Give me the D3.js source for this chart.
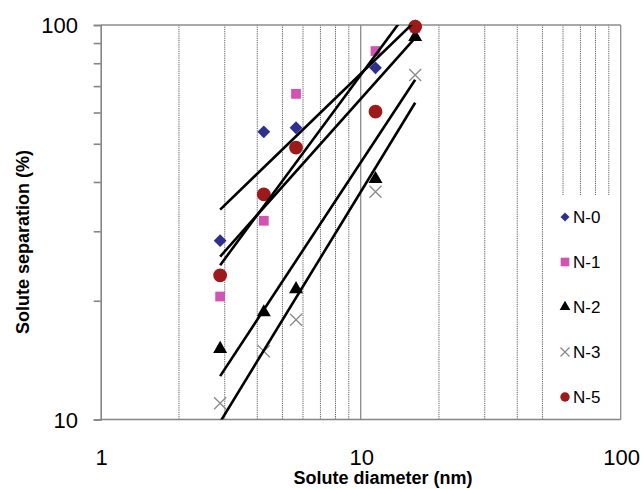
<!DOCTYPE html>
<html>
<head>
<meta charset="utf-8">
<script src="https://cdn.jsdelivr.net/npm/d3@7"></script>
<style>
  body { margin: 0; background: #fff; }
  text { font-family: "Liberation Sans", Arial, sans-serif; fill: #000; }
</style>
</head>
<body>
<svg id="chart" width="644" height="489"></svg>
<script>
// solute diameters (nm) and separation (%) per membrane
const diameters = [2.88, 4.24, 5.64, 11.4, 16.2];
const seriesNames = ["N-0", "N-1", "N-2", "N-3", "N-5"];
const n0 = [28.4, 53.6, 54.9, 77.9, 99.5];
const n1 = [20.5, 31.9, 66.9, 85.9, 98.3];
const n2 = [15.1, 18.7, 21.4, 40.7, 93.2];
const n3 = [11.0, 14.9, 17.9, 37.8, 74.7];
const n5 = [23.2, 37.2, 48.9, 60.3, 99.0];
const xTickLabels = [1, 10, 100];
const yTickLabels = [10, 100];

const seriesValues = [n0, n1, n2, n3, n5];
// diamond = square turned 45 degrees, like Excel's marker
const styles = [
  { sym: d3.symbolSquare, rot: 45, size: 82, fill: "#2e3090", leg: 40 },
  { sym: d3.symbolSquare, rot: 0, size: 95, fill: "#d253b6", leg: 75 },
  { sym: d3.symbolTriangle, rot: 0, size: 85, fill: "#000", leg: 50 },
  { sym: "x", size: 6, fill: "#8a8a8a", leg: 4.5 },
  { sym: d3.symbolCircle, rot: 0, size: 150, fill: "#9e1a1a", leg: 70 },
];

const svg = d3.select("#chart");
const x = d3.scaleLog().domain([1, 100]).range([100.7, 620.7]);
const y = d3.scaleLog().domain([10, 100]).range([419.5, 25]);

// minor gridlines (dotted)
const minorX = [2,3,4,5,6,7,8,9,20,30,40,50,60,70,80,90];
svg.append("g").selectAll("line").data(minorX).join("line")
  .attr("x1", d => x(d)).attr("x2", d => x(d))
  .attr("y1", y(10)).attr("y2", y(100))
  .attr("stroke", "#5e5e5e").attr("stroke-width", 1)
  .attr("stroke-dasharray", "1.2,1");

// major gridlines (solid)
svg.append("g").selectAll("line").data([10, 100]).join("line")
  .attr("x1", d => x(d)).attr("x2", d => x(d))
  .attr("y1", y(10)).attr("y2", y(100))
  .attr("stroke", "#8c8c8c").attr("stroke-width", 1.3);
svg.append("line")
  .attr("x1", x(1)).attr("x2", x(100))
  .attr("y1", y(100)).attr("y2", y(100))
  .attr("stroke", "#8c8c8c").attr("stroke-width", 1.3);

// legend background covers gridlines
svg.append("rect").attr("x", 549).attr("y", 195)
  .attr("width", 71).attr("height", 224).attr("fill", "#fff");

// y axis
const yAxis = d3.axisLeft(y)
  .tickValues([10,20,30,40,50,60,70,80,90,100])
  .tickSize(7).tickFormat("");
const gy = svg.append("g").attr("transform", `translate(${x(1)},0)`).call(yAxis);
gy.selectAll("path,line").attr("stroke", "#858585").attr("stroke-width", 1.6);

// x axis line
svg.append("line")
  .attr("x1", x(1)).attr("x2", x(100))
  .attr("y1", y(10)).attr("y2", y(10))
  .attr("stroke", "#858585").attr("stroke-width", 1.6);

// tick labels
svg.append("g").selectAll("text").data(yTickLabels).join("text")
  .attr("x", 78).attr("y", d => y(d) + 8)
  .attr("text-anchor", "end").attr("font-size", 22)
  .text(d => d);
svg.append("g").selectAll("text").data(xTickLabels).join("text")
  .attr("x", d => x(d) + 1).attr("y", 465)
  .attr("text-anchor", "middle").attr("font-size", 22)
  .text(d => d);

// axis titles
svg.append("text").attr("x", 383).attr("y", 484)
  .attr("text-anchor", "middle").attr("font-size", 18).attr("font-weight", "bold")
  .text("Solute diameter (nm)");
svg.append("text")
  .attr("transform", "translate(29,242) rotate(-90)")
  .attr("text-anchor", "middle").attr("font-size", 18).attr("font-weight", "bold")
  .text("Solute separation (%)");

function drawMarker(g, st, size) {
  if (st.sym === "x") {
    const r = size;
    g.append("path").attr("d", `M${-r},${-r}L${r},${r}M${-r},${r}L${r},${-r}`)
      .attr("stroke", st.fill).attr("stroke-width", 1.3).attr("fill", "none");
  } else {
    g.append("path").attr("d", d3.symbol().type(st.sym).size(size)())
      .attr("transform", `rotate(${st.rot})`)
      .attr("fill", st.fill);
  }
}

// markers
const plot = svg.append("g");
seriesValues.forEach((vals, i) => {
  const st = styles[i];
  vals.forEach((v, j) => {
    const g = plot.append("g").attr("transform", `translate(${x(diameters[j])},${y(v)})`);
    drawMarker(g, st, st.size);
  });
});

// power trendlines (least squares in log-log), clipped to plot area
svg.append("clipPath").attr("id", "clip").append("rect")
  .attr("x", x(1)).attr("y", y(100)).attr("width", x(100) - x(1)).attr("height", y(10) - y(100));
const lines = svg.append("g").attr("clip-path", "url(#clip)");
seriesValues.forEach(vals => {
  const lx = diameters.map(Math.log10), ly = vals.map(Math.log10);
  const mx = d3.mean(lx), my = d3.mean(ly);
  const slope = d3.sum(lx, (d, k) => (d - mx) * (ly[k] - my)) / d3.sum(lx, d => (d - mx) ** 2);
  const f = d => Math.pow(10, my + slope * (Math.log10(d) - mx));
  const x0 = d3.min(diameters), x1 = d3.max(diameters);
  lines.append("line")
    .attr("x1", x(x0)).attr("y1", y(f(x0)))
    .attr("x2", x(x1)).attr("y2", y(f(x1)))
    .attr("stroke", "#000").attr("stroke-width", 2.6);
});

// legend
const legend = svg.append("g");
seriesNames.forEach((name, i) => {
  const yy = 217 + i * 45;
  const g = legend.append("g").attr("transform", `translate(565,${yy})`);
  drawMarker(g, styles[i], styles[i].leg);
  legend.append("text").attr("x", 573).attr("y", yy + 6)
    .attr("font-size", 17).text(name);
});
</script>
</body>
</html>
